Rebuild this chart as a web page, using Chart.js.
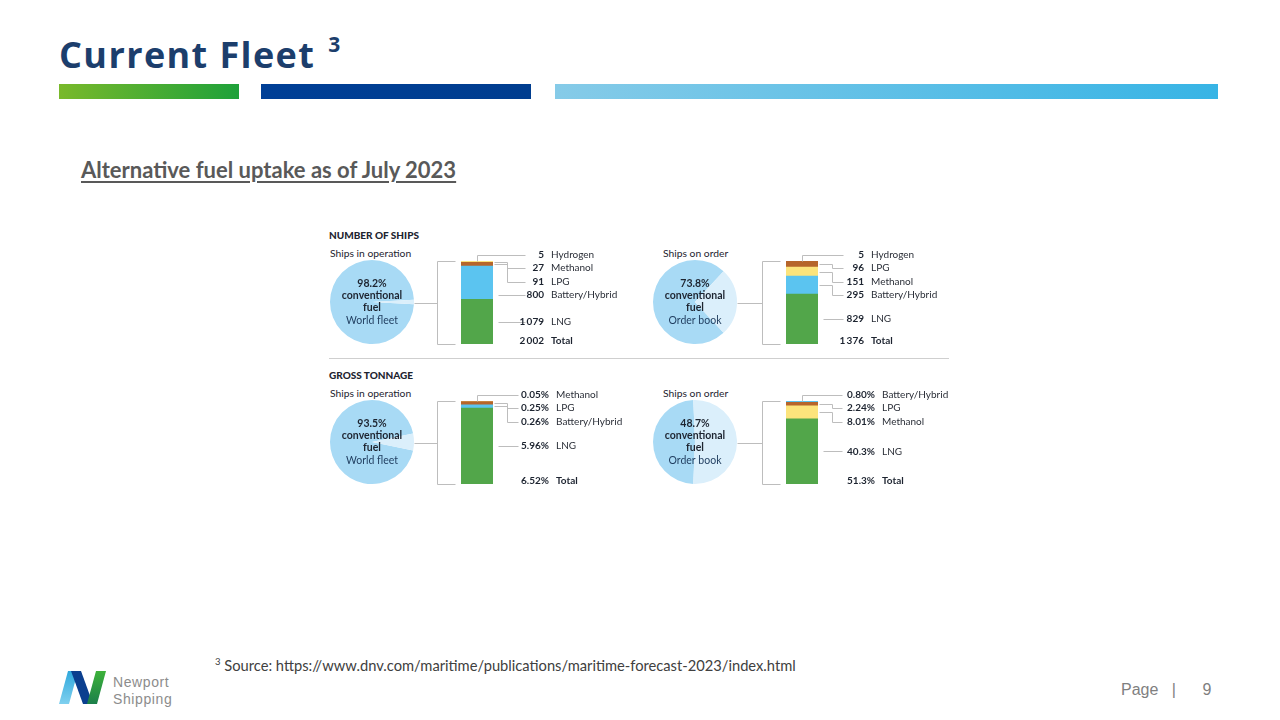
<!DOCTYPE html>
<html>
<head>
<meta charset="utf-8">
<script src="https://cdn.jsdelivr.net/npm/chart.js@4.4.0/dist/chart.umd.min.js"></script>
<style>
  html,body{margin:0;padding:0;background:#fff;}
  body{width:1280px;height:720px;position:relative;overflow:hidden;font-family:Lato,"Open Sans",sans-serif;}
  .abs{position:absolute;white-space:nowrap;}
  canvas{position:absolute;}
  #title{left:59px;top:23px;font-family:"Open Sans",sans-serif;font-weight:700;font-size:36px;color:#1c3e6c;letter-spacing:1.4px;line-height:48px;}
  #title sup{font-size:21px;position:relative;top:-3px;margin-left:13px;letter-spacing:0;}
  .hbar{position:absolute;top:84px;height:15px;}
  #subtitle{left:81px;top:156px;font-family:Lato,sans-serif;font-weight:700;font-size:22px;color:#595959;text-decoration:underline;text-underline-offset:3px;text-decoration-thickness:1.5px;line-height:28px;}
  .sec{font-family:Lato,sans-serif;font-weight:900;font-size:10px;color:#1d2430;line-height:12px;}
  .sub{font-family:Lato,sans-serif;font-size:10.3px;color:#1d2430;line-height:12px;}
  #divider{left:329px;top:358px;width:620px;height:1px;background:#cfcfcf;}
  #foot{left:215px;top:652px;font-family:Lato,sans-serif;font-size:14.7px;color:#404040;line-height:20px;}
  #foot sup{font-size:9.5px;}
  #page{left:1121px;top:680px;font-family:"Liberation Sans",Arial,sans-serif;font-size:16px;color:#7f7f7f;line-height:20px;}
  .logo-text{font-family:"Liberation Sans",Arial,sans-serif;font-size:14px;color:#8c8c8c;line-height:16px;height:16px;letter-spacing:0.6px;}
</style>
</head>
<body>
<div id="title" class="abs">Current Fleet<sup>3</sup></div>
<div class="hbar" style="left:59px;width:180px;background:linear-gradient(90deg,#79b92b,#1ea13a);"></div>
<div class="hbar" style="left:261px;width:270px;background:linear-gradient(90deg,#003f96,#003d8f);"></div>
<div class="hbar" style="left:555px;width:663px;background:linear-gradient(90deg,#86cbe8,#37b4e5);"></div>
<div id="subtitle" class="abs">Alternative fuel uptake as of July 2023</div>

<div class="abs sec" style="left:329px;top:229px;">NUMBER OF SHIPS</div>
<div class="abs sub" style="left:330px;top:247px;">Ships in operation</div>
<div class="abs sub" style="left:663px;top:247px;">Ships on order</div>
<div id="divider" class="abs"></div>
<div class="abs sec" style="left:329px;top:369px;">GROSS TONNAGE</div>
<div class="abs sub" style="left:330px;top:387px;">Ships in operation</div>
<div class="abs sub" style="left:663px;top:387px;">Ships on order</div>

<div id="foot" class="abs"><sup>3</sup> Source: https://www.dnv.com/maritime/publications/maritime-forecast-2023/index.html</div>
<div id="page" class="abs">Page&nbsp;&nbsp;&nbsp;|&nbsp;&nbsp;&nbsp;&nbsp;&nbsp;&nbsp;9</div>

<svg class="abs" style="left:55px;top:668px;" width="60" height="40" viewBox="0 0 60 40">
  <defs>
    <linearGradient id="gl" x1="0" y1="1" x2="0" y2="0"><stop offset="0" stop-color="#7fd0ef"/><stop offset="1" stop-color="#2fa8dc"/></linearGradient>
    <linearGradient id="gg" x1="0" y1="0" x2="0" y2="1"><stop offset="0" stop-color="#3db23a"/><stop offset="1" stop-color="#1c7f4a"/></linearGradient>
  </defs>
  <polygon points="13,3 23,3 14,36 4,36" fill="url(#gl)"/>
  <polygon points="16,3 26,3 38,36 28,36" fill="#0b3f8f"/>
  <polygon points="41,3 51,3 42,36 32,36" fill="url(#gg)"/>
</svg>
<div class="abs logo-text" style="left:113px;top:674px;">Newport</div>
<div class="abs logo-text" style="left:113px;top:690.5px;">Shipping</div>

<canvas id="pie1"></canvas><canvas id="pie2"></canvas><canvas id="pie3"></canvas><canvas id="pie4"></canvas>
<canvas id="bar1"></canvas><canvas id="bar2"></canvas><canvas id="bar3"></canvas><canvas id="bar4"></canvas>

<script>
// ---------------- DATA ----------------
const pieCategories = ['Conventional fuel', 'Alternative fuel'];
const opShipsConventional = 98.2;
const orderShipsConventional = 73.8;
const opTonnageConventional = 93.5;
const orderTonnageConventional = 48.7;

// fuels listed top-to-bottom as stacked in each bar
const opShipsFuels = ['Hydrogen', 'Methanol', 'LPG', 'Battery/Hybrid', 'LNG'];
const opShipsValues = [5, 27, 91, 800, 1079];
const opShipsValueText = ['5', '27', '91', '800', '1\u2009079'];
const opShipsTotalText = '2\u2009002';

const orderShipsFuels = ['Hydrogen', 'LPG', 'Methanol', 'Battery/Hybrid', 'LNG'];
const orderShipsValues = [5, 96, 151, 295, 829];
const orderShipsValueText = ['5', '96', '151', '295', '829'];
const orderShipsTotalText = '1\u2009376';

const opTonnageFuels = ['Methanol', 'LPG', 'Battery/Hybrid', 'LNG'];
const opTonnageValues = [0.05, 0.25, 0.26, 5.96];
const opTonnageValueText = ['0.05%', '0.25%', '0.26%', '5.96%'];
const opTonnageTotalText = '6.52%';

const orderTonnageFuels = ['Battery/Hybrid', 'LPG', 'Methanol', 'LNG'];
const orderTonnageValues = [0.80, 2.24, 8.01, 40.3];
const orderTonnageValueText = ['0.80%', '2.24%', '8.01%', '40.3%'];
const orderTonnageTotalText = '51.3%';

// ---------------- STYLE ----------------
const fuelColors = {
  'Hydrogen': '#e9a93a',
  'Methanol': '#fce47c',
  'LPG': '#b6652b',
  'Battery/Hybrid': '#5bc4f0',
  'LNG': '#52a64a'
};
const pieColors = ['#a8daf5', '#dbeffb'];
const lineColor = '#bdbdbd';
const textDark = '#1d2430';

const panels = [
  {pie:'pie1', bar:'bar1', conv:opShipsConventional, caption:'World fleet', cx:372, cy:302, r:42,
   fuels:opShipsFuels, values:opShipsValues, texts:opShipsValueText, total:opShipsTotalText,
   bx0:461, bx1:493, by0:261, by1:344, numRight:544, lineEnd:525},
  {pie:'pie2', bar:'bar2', conv:orderShipsConventional, caption:'Order book', cx:695, cy:302, r:42,
   fuels:orderShipsFuels, values:orderShipsValues, texts:orderShipsValueText, total:orderShipsTotalText,
   bx0:786, bx1:818, by0:261, by1:344, numRight:864, lineEnd:843},
  {pie:'pie3', bar:'bar3', conv:opTonnageConventional, caption:'World fleet', cx:372, cy:442, r:42,
   fuels:opTonnageFuels, values:opTonnageValues, texts:opTonnageValueText, total:opTonnageTotalText,
   bx0:461, bx1:493, by0:401, by1:484, numRight:549, lineEnd:518},
  {pie:'pie4', bar:'bar4', conv:orderTonnageConventional, caption:'Order book', cx:695, cy:442, r:42,
   fuels:orderTonnageFuels, values:orderTonnageValues, texts:orderTonnageValueText, total:orderTonnageTotalText,
   bx0:786, bx1:818, by0:401, by1:484, numRight:875, lineEnd:842}
];

function place(cv, left, top, w, h) {
  cv.width = w; cv.height = h;
  cv.style.left = left + 'px'; cv.style.top = top + 'px';
  cv.style.width = w + 'px'; cv.style.height = h + 'px';
}

panels.forEach(p => {
  // ---------- PIE ----------
  const pc = document.getElementById(p.pie);
  const pad = 2;
  const size = 2 * p.r + 2 * pad;
  place(pc, p.cx - p.r - pad, p.cy - p.r - pad, size, size);
  const C = p.conv * 3.6;
  const rotation = 90 - (C + 360) / 2;
  new Chart(pc, {
    type: 'pie',
    data: {labels: pieCategories, datasets: [{data: [p.conv, 100 - p.conv], backgroundColor: pieColors, borderWidth: 0}]},
    options: {
      responsive: false, animation: false, rotation: rotation,
      layout: {padding: pad},
      plugins: {legend: {display: false}, tooltip: {enabled: false}}
    },
    plugins: [{
      id: 'centerText',
      afterDraw(chart) {
        const meta = chart.getDatasetMeta(0);
        const el = meta.data[0];
        const x = el.x, y = el.y;
        const ctx = chart.ctx;
        ctx.save();
        ctx.textAlign = 'center'; ctx.textBaseline = 'middle';
        ctx.fillStyle = textDark;
        ctx.font = 'bold 10.5px Lato';
        ctx.fillText(p.conv.toFixed(1) + '%', x, y - 18.5);
        ctx.fillText('conventional', x, y - 6.5);
        ctx.fillText('fuel', x, y + 5.5);
        ctx.font = '10.5px Lato';
        ctx.fillStyle = '#1f3c5e';
        ctx.fillText(p.caption, x, y + 18.5);
        ctx.restore();
      }
    }]
  });

  // ---------- STACKED BAR ----------
  const bc = document.getElementById(p.bar);
  const cLeft = p.bx0 - 52, cTop = p.by0 - 20, cW = 250, cH = (p.by1 - p.by0) + 30;
  place(bc, cLeft, cTop, cW, cH);
  const sum = p.values.reduce((a, b) => a + b, 0);
  const order = p.fuels.map((f, i) => i).reverse(); // bottom dataset first
  const datasets = order.map(i => ({
    label: p.fuels[i], data: [p.values[i]], backgroundColor: fuelColors[p.fuels[i]],
    borderWidth: 0, barPercentage: 1, categoryPercentage: 1, stack: 's'
  }));
  new Chart(bc, {
    type: 'bar',
    data: {labels: [''], datasets: datasets},
    options: {
      responsive: false, animation: false,
      layout: {padding: {left: p.bx0 - cLeft, right: cLeft + cW - p.bx1, top: p.by0 - cTop, bottom: cTop + cH - p.by1}},
      scales: {
        x: {display: false, stacked: true},
        y: {display: false, stacked: true, min: 0, max: sum}
      },
      plugins: {legend: {display: false}, tooltip: {enabled: false}}
    },
    plugins: [{
      id: 'leaders',
      afterDatasetsDraw(chart) {
        const ctx = chart.ctx;
        const ox = cLeft; // page -> canvas offset
        const area = chart.chartArea;
        const barL = area.left, barR = area.right, barT = area.top, barB = area.bottom;
        const barC = (barL + barR) / 2;
        // segments top-to-bottom
        const segs = p.fuels.map((f, i) => {
          const dsIndex = order.indexOf(i);
          const el = chart.getDatasetMeta(dsIndex).data[0];
          return {name: f, text: p.texts[i], top: Math.min(el.y, el.base), bot: Math.max(el.y, el.base)};
        });
        ctx.save();
        ctx.strokeStyle = lineColor; ctx.lineWidth = 1;
        const L = v => Math.round(v) + 0.5;
        // bracket + pie connector
        const brX = barL - 24.5;
        const midY = (barT + barB) / 2;
        ctx.beginPath();
        ctx.moveTo(L(barL - 6), L(barT)); ctx.lineTo(L(brX), L(barT)); ctx.lineTo(L(brX), L(barB)); ctx.lineTo(L(barL - 6), L(barB));
        ctx.moveTo(L(p.cx + p.r - ox), L(midY)); ctx.lineTo(L(brX), L(midY));
        ctx.stroke();

        const lineEnd = p.lineEnd - ox;
        const numRight = p.numRight - ox;
        const nameX = numRight + 7;
        const spacing = 13.5;
        const elbowX = barR + 14;
        let prev = null;
        const labelYs = [];
        segs.forEach((s, k) => {
          const mid = (s.top + s.bot) / 2;
          let y;
          ctx.beginPath();
          if (k === 0) {
            y = barT - 6.5;
            ctx.moveTo(L(barC), L(barT)); ctx.lineTo(L(barC), L(y)); ctx.lineTo(L(lineEnd), L(y));
          } else {
            y = Math.max(mid, prev + spacing);
            if (y >= s.top && y <= s.bot) {
              ctx.moveTo(L(barR + 5), L(y)); ctx.lineTo(L(lineEnd), L(y));
            } else {
              ctx.moveTo(L(barR + 1), L(mid)); ctx.lineTo(L(elbowX), L(mid)); ctx.lineTo(L(elbowX), L(y)); ctx.lineTo(L(lineEnd), L(y));
            }
          }
          ctx.stroke();
          prev = y;
          labelYs.push(y);
        });
        // labels
        ctx.textBaseline = 'middle';
        segs.forEach((s, k) => {
          const y = labelYs[k];
          ctx.font = 'bold 10px Lato'; ctx.fillStyle = textDark; ctx.textAlign = 'right';
          ctx.fillText(s.text, numRight, y);
          ctx.font = '10px Lato'; ctx.fillStyle = '#2b2f38'; ctx.textAlign = 'left';
          ctx.fillText(s.name, nameX, y);
        });
        const ty = barB - 3;
        ctx.font = 'bold 10px Lato'; ctx.fillStyle = textDark; ctx.textAlign = 'right';
        ctx.fillText(p.total, numRight, ty);
        ctx.textAlign = 'left';
        ctx.fillText('Total', nameX, ty);
        ctx.restore();
      }
    }]
  });
});
</script>
</body>
</html>
